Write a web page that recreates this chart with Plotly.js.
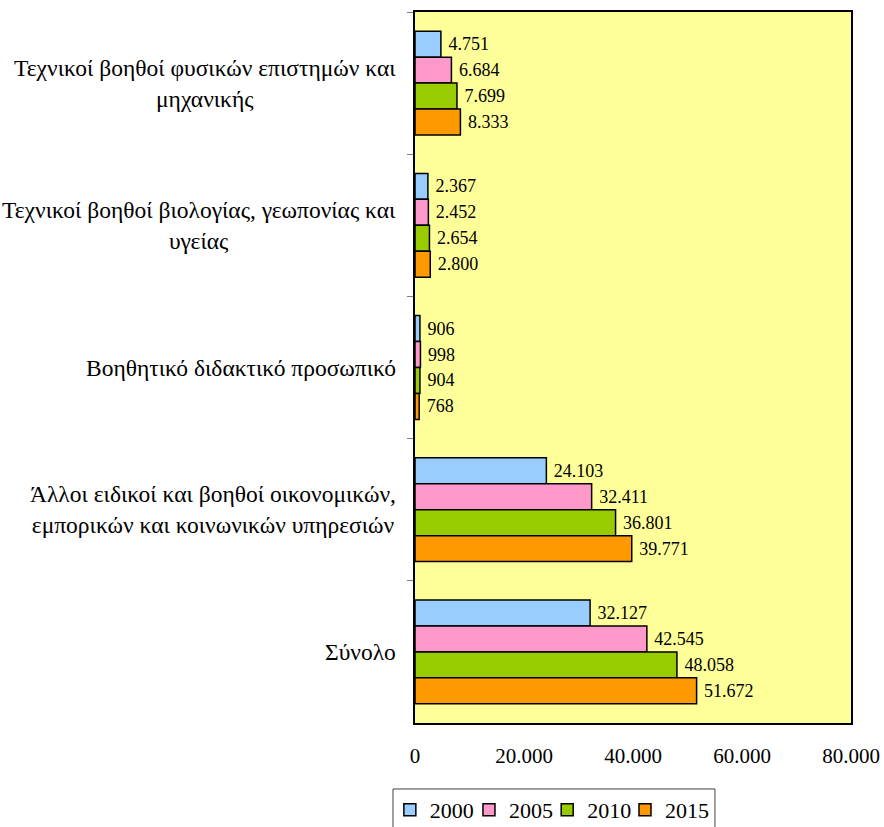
<!DOCTYPE html>
<html><head><meta charset="utf-8">
<script src="https://cdn.plot.ly/plotly-3.0.1.min.js"></script>
<style>html,body{margin:0;padding:0;background:#fff}</style>
</head><body>
<div id="chart" style="width:884px;height:827px"></div>
<script>
const categories = [
  "Τεχνικοί βοηθοί φυσικών επιστημών και<br>μηχανικής",
  "Τεχνικοί βοηθοί βιολογίας, γεωπονίας και<br>υγείας",
  "Βοηθητικό διδακτικό προσωπικό",
  "Άλλοι ειδικοί και βοηθοί οικονομικών,<br>εμπορικών και κοινωνικών υπηρεσιών",
  "Σύνολο"
];
const years = ["2000", "2005", "2010", "2015"];
const values2000 = [4751, 2367, 906, 24103, 32127];
const values2005 = [6684, 2452, 998, 32411, 42545];
const values2010 = [7699, 2654, 904, 36801, 48058];
const values2015 = [8333, 2800, 768, 39771, 51672];
const series = [values2000, values2005, values2010, values2015];
const colors = ["#99CCFF", "#FF99CC", "#99CC00", "#FF9900"];
const xTicks = [0, 20000, 40000, 60000, 80000];

const font = "Liberation Serif, DejaVu Serif, serif";
const legendNames = ["legend", "legend2", "legend3", "legend4"];
const legendX = [0.441, 0.5305, 0.619, 0.707];

const traces = series.map((vals, i) => ({
  type: "bar",
  orientation: "h",
  name: years[i],
  legend: legendNames[i],
  y: categories,
  x: vals,
  marker: {color: colors[i], line: {color: "#000", width: 1.5}},
  text: vals,
  texttemplate: "\u00a0%{x:,}",
  textposition: "outside",
  cliponaxis: false,
  textfont: {family: font, size: 18, color: "#000"},
  hoverinfo: "x+name"
}));

const annotations = categories.map(c => ({
  xref: "paper", yref: "y", x: -0.04, y: c,
  xanchor: "right", yanchor: "middle", align: "center",
  text: c, showarrow: false,
  font: {family: font, size: 23.5, color: "#000"}
}));

const layout = {
  width: 884, height: 827,
  margin: {l: 415, r: 33, t: 12, b: 104, autoexpand: false},
  paper_bgcolor: "#fff",
  plot_bgcolor: "#FFFF99",
  separators: ",.",
  barmode: "group",
  bargap: 0.27,
  bargroupgap: 0,
  showlegend: true,
  font: {family: font, size: 22, color: "#000"},
  xaxis: {
    range: [0, 80000], tickvals: xTicks, tickformat: ",",
    showgrid: false, zeroline: false,
    showline: true, linecolor: "#000", linewidth: 2, mirror: true,
    ticks: "", ticklabelstandoff: 13,
    tickfont: {family: font, size: 21, color: "#000"}
  },
  yaxis: {
    type: "category", autorange: "reversed",
    showticklabels: false, showgrid: false, zeroline: false,
    showline: true, linecolor: "#000", linewidth: 2, mirror: true,
    ticks: "outside", tickson: "boundaries", ticklen: 6, tickcolor: "#808080", tickwidth: 1
  },
  shapes: [{
    type: "rect", xref: "paper", yref: "paper",
    x0: -0.0505, x1: 0.688, y0: -0.0928, y1: -0.2,
    line: {color: "#404040", width: 1}, fillcolor: "#fff", layer: "above"
  }],
  annotations: annotations
};

legendNames.forEach((ln, i) => {
  layout[ln] = {
    orientation: "h", xref: "container", yref: "container",
    x: legendX[i], xanchor: "left", y: 0.046, yanchor: "top",
    borderwidth: 0, bgcolor: "rgba(0,0,0,0)",
    font: {family: font, size: 22, color: "#000"},
    itemwidth: 30
  };
});

Plotly.newPlot("chart", traces, layout, {displayModeBar: false});
</script>
</body></html>
